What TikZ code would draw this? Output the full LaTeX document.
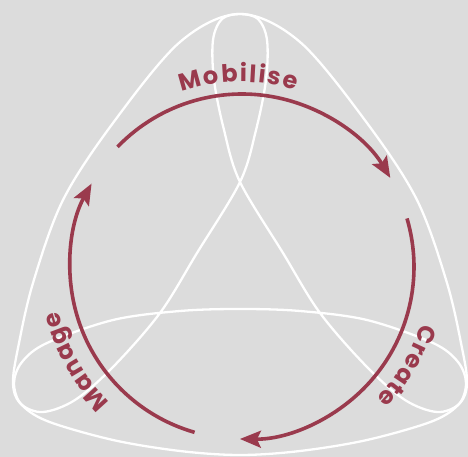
\documentclass[tikz,border=0pt]{standalone}
\usepackage{fontspec}
\newfontfamily\labelfont{Poppins}
\usetikzlibrary{arrows.meta,decorations.text}
\definecolor{bg}{RGB}{220,220,220}
\definecolor{maroon}{RGB}{154,58,77}
\begin{document}
\begin{tikzpicture}[x=1pt,y=1pt,
  cyclearrow/.style={draw=maroon, line width=3.6pt, -{Stealth[length=21pt,width=17pt,inset=4pt]}},
  whiteline/.style={draw=white, line width=2.3pt},
  arclabel/.style={decorate, decoration={text along path, text align=fit to path, text color=maroon,
      text={|\labelfont\bfseries\fontsize{24}{24}\selectfont|#1}}}
  ]
\fill[bg] (0,0) rectangle (468,457);
\useasboundingbox (0,0) rectangle (468,457);
\begin{scope}[shift={(0,457)}, yscale=-1]
\draw[whiteline] plot[smooth cycle, tension=0.55] coordinates {
 (240,14) (300,42) (367,123) (417,200) (447,283) (462,348) (467,383) (460,403) (433,421) (367,440) (300,451) (240,455)
 (180,451) (113,440) (47,421) (20,403) (13,383) (18,348) (33,283) (63,200) (113,123) (180,42)};
\draw[whiteline] plot[smooth cycle, tension=0.55] coordinates {
 (240,14) (222,19) (213,40) (214,80) (224,130) (240,182) (283,253) (320,313) (367,367) (405,400) (437,412) (459,404)
 (466,383) (458,362) (433,343) (367,320) (300,311) (240,309) (180,311) (113,320) (47,343) (22,362) (14,383) (21,404)
 (43,412) (75,400) (113,367) (160,313) (197,253) (240,182) (256,130) (266,80) (267,40) (258,19)};
\end{scope}
\coordinate (c) at (242,190);
\draw[cyclearrow] (c) ++(136:173) arc[start angle=136, end angle=31, radius=173];
\draw[cyclearrow] (c) ++(16.4:172) arc[start angle=16.4, end angle=-90.7, radius=172];
\draw[cyclearrow] (c) ++(254:172) arc[start angle=254, end angle=151, radius=172];
\path[arclabel=Mobilise] (c) ++(109:185) arc[start angle=109, end angle=73, radius=185];
\path[arclabel=Create] (c) ++(-17.5:188) arc[start angle=-17.5, end angle=-44.5, radius=188];
\path[arclabel=Manage] (c) ++(225.5:189) arc[start angle=225.5, end angle=193.5, radius=189];
\end{tikzpicture}
\end{document}
